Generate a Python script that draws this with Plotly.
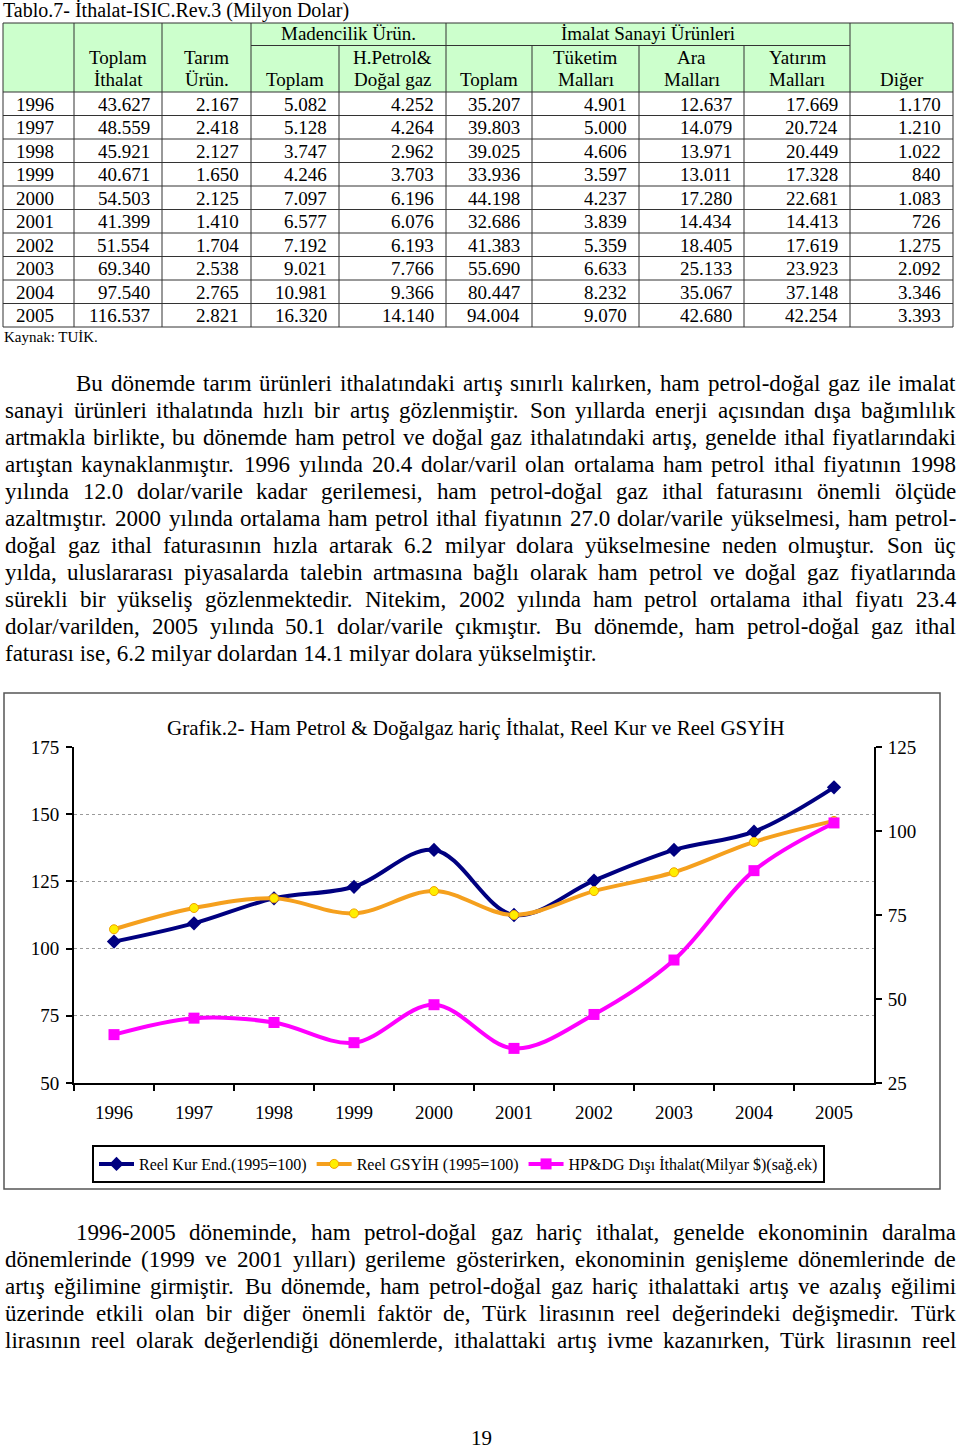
import plotly.graph_objects as go

W, H = 960, 1452
FONT = "Liberation Serif, Times New Roman, serif"

# ---------------- data ----------------
years = [1996, 1997, 1998, 1999, 2000, 2001, 2002, 2003, 2004, 2005]
toplam_ithalat = [43627, 48559, 45921, 40671, 54503, 41399, 51554, 69340, 97540, 116537]
tarim_urun = [2167, 2418, 2127, 1650, 2125, 1410, 1704, 2538, 2765, 2821]
madencilik_toplam = [5082, 5128, 3747, 4246, 7097, 6577, 7192, 9021, 10981, 16320]
hpetrol_dogalgaz = [4252, 4264, 2962, 3703, 6196, 6076, 6193, 7766, 9366, 14140]
imalat_toplam = [35207, 39803, 39025, 33936, 44198, 32686, 41383, 55690, 80447, 94004]
tuketim_mallari = [4901, 5000, 4606, 3597, 4237, 3839, 5359, 6633, 8232, 9070]
ara_mallari = [12637, 14079, 13971, 13011, 17280, 14434, 18405, 25133, 35067, 42680]
yatirim_mallari = [17669, 20724, 20449, 17328, 22681, 14413, 17619, 23923, 37148, 42254]
diger = [1170, 1210, 1022, 840, 1083, 726, 1275, 2092, 3346, 3393]

reel_kur = [102.6, 109.4, 118.7, 123.0, 136.7, 112.5, 125.3, 136.7, 143.5, 160.0]
reel_gsyih = [107.2, 115.1, 118.7, 113.1, 121.4, 112.5, 121.4, 128.4, 139.7, 147.5]
hpdg_disi_ithalat = [39.4, 44.3, 43.0, 37.0, 48.3, 35.3, 45.4, 61.6, 88.2, 102.4]

left_ticks = [50, 75, 100, 125, 150, 175]
right_ticks = [25, 50, 75, 100, 125]

table_title = "Tablo.7- İthalat-ISIC.Rev.3 (Milyon Dolar)"
chart_title = "Grafik.2- Ham Petrol &amp; Doğalgaz hariç İthalat, Reel Kur ve Reel GSYİH"
series_names = ["Reel Kur End.(1995=100)", "Reel GSYİH (1995=100)",
                "HP&amp;DG Dışı İthalat(Milyar $)(sağ.ek)"]

para1 = [
    "Bu dönemde tarım ürünleri ithalatındaki artış sınırlı kalırken, ham petrol-doğal gaz ile imalat",
    "sanayi ürünleri ithalatında hızlı bir artış gözlenmiştir. Son yıllarda enerji açısından dışa bağımlılık",
    "artmakla birlikte, bu dönemde ham petrol ve doğal gaz ithalatındaki artış, genelde ithal fiyatlarındaki",
    "artıştan kaynaklanmıştır. 1996 yılında 20.4 dolar/varil olan ortalama ham petrol ithal fiyatının 1998",
    "yılında 12.0 dolar/varile kadar gerilemesi, ham petrol-doğal gaz ithal faturasını önemli ölçüde",
    "azaltmıştır. 2000 yılında ortalama ham petrol ithal fiyatının 27.0 dolar/varile yükselmesi, ham petrol-",
    "doğal gaz ithal faturasının hızla artarak 6.2 milyar dolara yükselmesine neden olmuştur. Son üç",
    "yılda, uluslararası piyasalarda talebin artmasına bağlı olarak ham petrol ve doğal gaz fiyatlarında",
    "sürekli bir yükseliş gözlenmektedir. Nitekim, 2002 yılında ham petrol ortalama ithal fiyatı 23.4",
    "dolar/varilden, 2005 yılında 50.1 dolar/varile çıkmıştır. Bu dönemde, ham petrol-doğal gaz ithal",
    "faturası ise, 6.2 milyar dolardan 14.1 milyar dolara yükselmiştir.",
]
para2 = [
    "1996-2005 döneminde, ham petrol-doğal gaz hariç ithalat, genelde ekonominin daralma",
    "dönemlerinde (1999 ve 2001 yılları) gerileme gösterirken, ekonominin genişleme dönemlerinde de",
    "artış eğilimine girmiştir. Bu dönemde, ham petrol-doğal gaz hariç ithalattaki artış ve azalış eğilimi",
    "üzerinde etkili olan bir diğer önemli faktör de, Türk lirasının reel değerindeki değişmedir. Türk",
    "lirasının reel olarak değerlendiği dönemlerde, ithalattaki artış ivme kazanırken, Türk lirasının reel",
]

# ---------------- helpers ----------------
def px(x):
    return x / W


def py(y):
    return 1 - y / H


annotations = []
shapes = []


def text(x, y, s, size, xanchor="left", yanchor="middle"):
    annotations.append(dict(x=px(x), y=py(y), xref="paper", yref="paper", text=s,
                            showarrow=False, xanchor=xanchor, yanchor=yanchor,
                            borderpad=0,
                            font=dict(family=FONT, size=size, color="black")))


def hline(x0, x1, y, color="#333333", width=1):
    shapes.append(dict(type="line", xref="paper", yref="paper", x0=px(x0), x1=px(x1),
                       y0=py(y), y1=py(y), line=dict(color=color, width=width)))


def vline(x, y0, y1, color="#333333", width=1):
    shapes.append(dict(type="line", xref="paper", yref="paper", x0=px(x), x1=px(x),
                       y0=py(y0), y1=py(y1), line=dict(color=color, width=width)))


# Times metrics (per 1000 em)
TW = {' ': 250, '&': 778, '(': 333, ')': 333, ',': 250, '-': 333, '.': 250, '/': 278,
      ':': 278, ';': 278, '=': 564, '$': 500, '%': 833}
for ch in "0123456789":
    TW[ch] = 500
for ch, w in zip("ABCDEFGHIJKLMNOPQRSTUVWXYZ",
                 [722, 667, 667, 722, 611, 556, 722, 722, 333, 389, 722, 611, 889, 722, 722,
                  556, 722, 667, 556, 611, 722, 722, 944, 722, 722, 611]):
    TW[ch] = w
for ch, w in zip("abcdefghijklmnopqrstuvwxyz",
                 [444, 500, 444, 500, 444, 333, 500, 500, 278, 278, 500, 278, 778, 500, 500,
                  500, 500, 333, 389, 278, 500, 500, 722, 500, 500, 444]):
    TW[ch] = w
TW.update({'ç': 444, 'ş': 389, 'ğ': 500, 'ı': 278, 'ö': 500, 'ü': 500, 'İ': 333,
           'Ç': 667, 'Ş': 556, 'Ğ': 722, 'Ö': 722, 'Ü': 722})


def tw(s, fs):
    return sum(TW.get(c, 500) for c in s) * fs / 1000.0


def para_line(line, left, right, y, fs, justify=True):
    words = line.split(" ")
    if not justify or len(words) < 2:
        text(left, y, line, fs)
        return
    widths = [tw(w, fs) for w in words]
    gap = (right - left - sum(widths)) / (len(words) - 1)
    x = left
    for w, wd in zip(words, widths):
        text(x, y, w, fs)
        x += wd + gap


def fmt(n):
    return f"{n:,}".replace(",", ".")


# ---------------- table ----------------
text(2, 11, table_title, 20)

col_edges = [3, 74, 162, 251, 339, 446, 532, 639, 744, 850, 953]
t_top, t_mid, t_head, row_h = 23, 45.5, 92, 23.5
n_rows = len(years)
t_bot = t_head + row_h * n_rows

shapes.append(dict(type="rect", xref="paper", yref="paper", x0=px(3), x1=px(953),
                   y0=py(t_top), y1=py(t_head), fillcolor="#CCFFCC",
                   line=dict(width=0), layer="below"))
hline(3, 953, t_top)
hline(251, 850, t_mid)
for i in range(n_rows + 1):
    hline(3, 953, t_head + i * row_h)
for i, x in enumerate(col_edges):
    full = x in (3, 74, 162, 251, 446, 850, 953)
    vline(x, t_top if full else t_mid, t_bot)

# header texts
text((251 + 446) / 2, 34, "Madencilik Ürün.", 19, "center")
text((446 + 850) / 2, 34, "İmalat Sanayi Ürünleri", 19, "center")
header2 = [["Toplam", "İthalat"], ["Tarım", "Ürün."], ["", "Toplam"],
           ["H.Petrol&amp;", "Doğal gaz"], ["", "Toplam"], ["Tüketim", "Malları"],
           ["Ara", "Malları"], ["Yatırım", "Malları"], ["", "Diğer"]]
for j, (l1, l2) in enumerate(header2):
    cx = (col_edges[j + 1] + col_edges[j + 2]) / 2
    if l1:
        text(cx, 57, l1, 19, "center")
    text(cx, 79.5, l2, 19, "center")

columns = [toplam_ithalat, tarim_urun, madencilik_toplam, hpetrol_dogalgaz, imalat_toplam,
           tuketim_mallari, ara_mallari, yatirim_mallari, diger]
for i, yr in enumerate(years):
    cy = t_head + row_h * i + row_h / 2 + 0.5
    text(15, cy, str(yr), 19)
    for j, col in enumerate(columns):
        text(col_edges[j + 2] - 11, cy, fmt(col[i]), 19, "right")

text(3, 337, "Kaynak: TUİK.", 15)

# ---------------- paragraph 1 ----------------
fs1 = 23
for k, line in enumerate(para1):
    left = 75 if k == 0 else 4
    para_line(line, left, 955, 383 + 27 * k, fs1, justify=(k < len(para1) - 1))

# ---------------- paragraph 2 ----------------
fs2 = 23
while True:
    ok = True
    for k, line in enumerate(para2):
        left = 75 if k == 0 else 4
        nw = len(line.split(" "))
        if tw(line.replace(" ", ""), fs2) + 3 * (nw - 1) > 955 - left:
            ok = False
    if ok:
        break
    fs2 -= 0.5
for k, line in enumerate(para2):
    left = 75 if k == 0 else 4
    para_line(line, left, 955, 1232 + 27 * k, fs2, justify=True)

text(481, 1438, "19", 21, "center")

# ---------------- chart ----------------
shapes.append(dict(type="rect", xref="paper", yref="paper", x0=px(4), x1=px(940),
                   y0=py(693), y1=py(1189), line=dict(color="#555555", width=1.5),
                   fillcolor="rgba(0,0,0,0)", layer="below"))
text(166, 728, chart_title, 21)

cats = [str(y) for y in years]
fig = go.Figure()
fig.add_trace(go.Scatter(x=cats, y=reel_kur, name=series_names[0], mode="lines+markers",
                         line=dict(color="#000080", width=4, shape="spline", smoothing=1),
                         marker=dict(symbol="diamond", size=11, color="#000080")))
fig.add_trace(go.Scatter(x=cats, y=reel_gsyih, name=series_names[1], mode="lines+markers",
                         line=dict(color="#F5A01E", width=4, shape="spline", smoothing=1),
                         marker=dict(symbol="circle", size=9, color="#FFEE00",
                                     line=dict(color="#F0A000", width=1))))
fig.add_trace(go.Scatter(x=cats, y=hpdg_disi_ithalat, name=series_names[2],
                         mode="lines+markers", yaxis="y2",
                         line=dict(color="#FF00FF", width=4, shape="spline", smoothing=1),
                         marker=dict(symbol="square", size=11, color="#FF00FF")))

tickfont = dict(family=FONT, size=19, color="black")
ydom = [py(1083), py(747)]
xdom = [px(74), px(874)]
common_tick = dict(ticklen=6, tickwidth=2, tickcolor="black")

fig.update_layout(
    width=W, height=H,
    autosize=False,
    margin=dict(l=0, r=0, t=0, b=0, pad=0, autoexpand=False),
    paper_bgcolor="white", plot_bgcolor="white",
    showlegend=True,
    xaxis=dict(domain=xdom, type="category", range=[-0.5, len(years) - 0.5],
               tickson="boundaries", ticks="outside", showline=True, linewidth=2,
               linecolor="black", showgrid=False, tickfont=tickfont, automargin=False,
               ticklabelstandoff=11, anchor="y", **common_tick),
    xaxis2=dict(domain=xdom, overlaying="x", anchor="y", range=[-0.5, len(years) - 0.5],
                tickmode="array", tickvals=[i - 0.5 for i in range(len(years) + 1)],
                ticks="inside", showticklabels=False, showgrid=False, zeroline=False,
                showline=False, automargin=False, **common_tick),
    yaxis=dict(domain=ydom, range=[left_ticks[0], left_ticks[-1]], tickmode="array",
               tickvals=left_ticks, ticks="outside", showline=True, linewidth=2,
               linecolor="black", showgrid=True, gridcolor="#9a9a9a", griddash="dot",
               gridwidth=1, zeroline=False, tickfont=tickfont, ticklabelstandoff=3,
               anchor="x", automargin=False, **common_tick),
    yaxis2=dict(domain=ydom, overlaying="y", side="right", anchor="x",
                range=[right_ticks[0], right_ticks[-1]], tickmode="array",
                tickvals=right_ticks, ticks="outside", showline=True, linewidth=2,
                linecolor="black", showgrid=False, zeroline=False, tickfont=tickfont,
                ticklabelstandoff=2, automargin=False, **common_tick),
    yaxis3=dict(domain=ydom, overlaying="y", side="left", anchor="x",
                range=[left_ticks[0], left_ticks[-1]], tickmode="array",
                tickvals=left_ticks, ticks="inside", showticklabels=False,
                showgrid=False, zeroline=False, showline=False, automargin=False,
                **common_tick),
    yaxis4=dict(domain=ydom, overlaying="y", side="right", anchor="x",
                range=[right_ticks[0], right_ticks[-1]], tickmode="array",
                tickvals=right_ticks, ticks="inside", showticklabels=False,
                showgrid=False, zeroline=False, showline=False, automargin=False,
                **common_tick),
    legend=dict(orientation="h", x=px(92), y=py(1145), xanchor="left", yanchor="top",
                bgcolor="white", bordercolor="black", borderwidth=2,
                font=dict(family=FONT, size=16, color="black"), itemwidth=35,
                tracegroupgap=0),
    annotations=annotations,
    shapes=shapes,
)

fig.write_html("out.html",
               config={"displayModeBar": False, "responsive": False},
               post_script="document.documentElement.style.margin='0px';"
                           "document.documentElement.style.padding='0px';"
                           "document.body.style.margin='0px';"
                           "document.body.style.padding='0px';"
                           "document.body.style.overflow='hidden';")
